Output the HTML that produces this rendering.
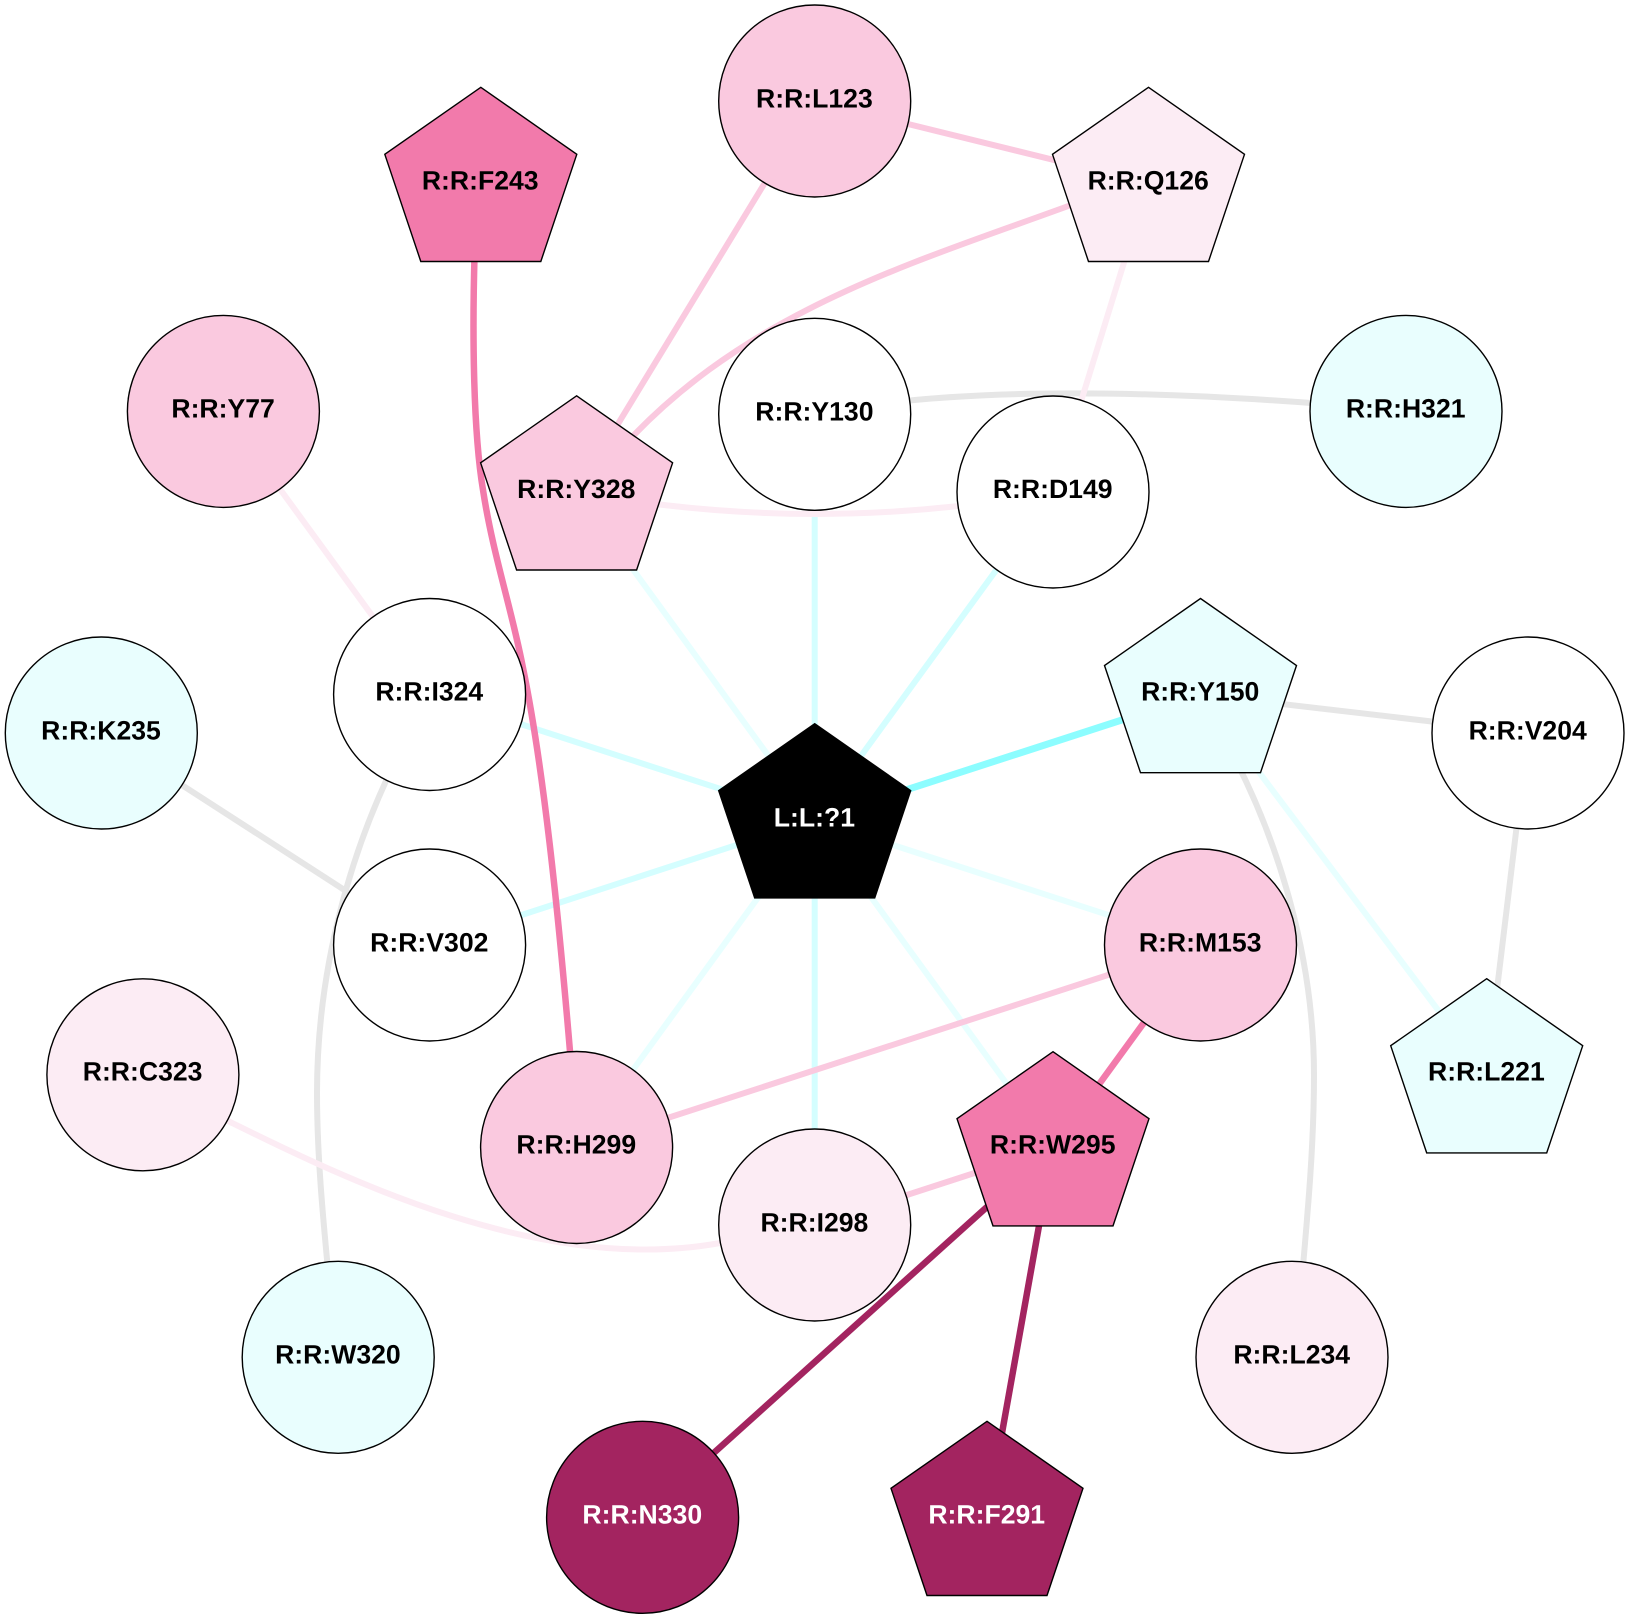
<!DOCTYPE html>
<html>
<head>
<meta charset="utf-8">
<style>
html,body{margin:0;padding:0;background:#fff;width:1629px;height:1619px;overflow:hidden}
svg{display:block}
text{font-family:"Liberation Sans",sans-serif;font-weight:bold;font-size:26.6px;text-anchor:middle;fill:#000;text-rendering:geometricPrecision}
text.w{fill:#fff}
.n{stroke:#000;stroke-width:1.4}
.e{fill:none}
</style>
</head>
<body>
<svg xmlns="http://www.w3.org/2000/svg" width="1629" height="1619" viewBox="0 0 1629 1619">
<defs>
<polygon id="p" points="0,-96 96,-29 60,78.2 -60,78.2 -96,-29"/>
</defs>
<rect width="1629" height="1619" fill="#fff"/>
<g class="e">
<!-- edges to centre -->
<path d="M814.7,819.5L814.7,414" stroke="#d4feff" stroke-width="6"/>
<path d="M814.7,819.5L1053,492" stroke="#d4feff" stroke-width="6"/>
<path d="M814.7,819.5L576.6,491.8" stroke="#e8ffff" stroke-width="6"/>
<path d="M814.7,819.5L429.6,694.5" stroke="#d4feff" stroke-width="6"/>
<path d="M814.7,819.5L429.6,945" stroke="#d4feff" stroke-width="6"/>
<path d="M814.7,819.5L576.6,1147.5" stroke="#e8ffff" stroke-width="6"/>
<path d="M814.7,819.5L814.7,1225" stroke="#d4feff" stroke-width="6"/>
<path d="M814.7,819.5L1053,1147.5" stroke="#e8ffff" stroke-width="6"/>
<path d="M814.7,819.5L1200.5,945" stroke="#e8ffff" stroke-width="6"/>
<path d="M814.7,819.5L1200.5,694.5" stroke="#8cfdff" stroke-width="7"/>
<!-- outer grey -->
<path d="M101.3,733L429.6,945" stroke="#e6e6e6" stroke-width="6"/>
<path d="M400,752C355,840 317,960 317,1093C317,1150 322,1210 330,1290" stroke="#e6e6e6" stroke-width="6"/>
<path d="M1225,740C1280,840 1314,960 1314,1075C1314,1140 1309,1200 1300,1300" stroke="#e6e6e6" stroke-width="6"/>
<path d="M1200.5,694.5L1528,732.7" stroke="#e6e6e6" stroke-width="6"/>
<path d="M1528,732.7L1486.7,1074.7" stroke="#e6e6e6" stroke-width="6"/>
<path d="M815,414C950,387 1150,387 1406,411" stroke="#e6e6e6" stroke-width="6"/>
<path d="M1200.5,694.5L1486.7,1074.7" stroke="#e8ffff" stroke-width="6"/>
<!-- pale pink -->
<path d="M1148.5,183.3L1053,492" stroke="#fcecf4" stroke-width="6"/>
<path d="M576.6,491.8Q815,536 1053,492" stroke="#fcecf4" stroke-width="6"/>
<path d="M223.4,411.4L429.6,694.5" stroke="#fcecf4" stroke-width="6"/>
<path d="M190,1100L228,1121C340,1176 540,1276 720,1243L760,1236" stroke="#fcecf4" stroke-width="6"/>
<!-- pink -->
<path d="M814.7,101L1148.5,183.3" stroke="#fac9df" stroke-width="6"/>
<path d="M814.7,101L576.6,491.8" stroke="#fac9df" stroke-width="6"/>
<path d="M1090,198C930,258 750,305 620,450" stroke="#fac9df" stroke-width="6"/>
<path d="M1200.5,945L576.6,1147.5" stroke="#fac9df" stroke-width="6"/>
<path d="M1053,1147.5L814.7,1225" stroke="#fac9df" stroke-width="6"/>
<!-- strong -->
<path d="M475,240C472,330 473,430 483,490C493,555 512,610 523,668C542,760 558,900 574,1100" stroke="#f27aab" stroke-width="6.5"/>
<path d="M1200.5,945L1053,1147.5" stroke="#f27aab" stroke-width="6.5"/>
<path d="M1053,1147.5L642.6,1517" stroke="#a32460" stroke-width="6.5"/>
<path d="M1053,1147.5L987,1517" stroke="#a32460" stroke-width="6.5"/>
</g>

<!-- nodes -->
<g>
<circle class="n" cx="814.7" cy="101" r="96" fill="#fac9df"/>
<use class="n" href="#p" x="480.8" y="183.3" fill="#f27aab"/>
<use class="n" href="#p" x="1148.5" y="183.3" fill="#fcecf4"/>
<circle class="n" cx="223.4" cy="411.4" r="96" fill="#fac9df"/>
<circle class="n" cx="814.7" cy="414.3" r="96" fill="#fff"/>
<circle class="n" cx="1406" cy="411.4" r="96" fill="#e9fefe"/>
<use class="n" href="#p" x="576.6" y="491.8" fill="#fac9df"/>
<circle class="n" cx="1053" cy="492" r="96" fill="#fff"/>
<circle class="n" cx="429.6" cy="694.5" r="96" fill="#fff"/>
<use class="n" href="#p" x="1200.5" y="694.5" fill="#e9fefe"/>
<circle class="n" cx="101.3" cy="733" r="96" fill="#e9fefe"/>
<circle class="n" cx="1528" cy="733" r="96" fill="#fff"/>
<use class="n" href="#p" x="814.7" y="819.7" fill="#000"/>
<circle class="n" cx="429.6" cy="945" r="96" fill="#fff"/>
<circle class="n" cx="1200.5" cy="945" r="96" fill="#fac9df"/>
<use class="n" href="#p" x="1486.7" y="1074.7" fill="#e9fefe"/>
<circle class="n" cx="142.9" cy="1074.8" r="96" fill="#fcecf4"/>
<circle class="n" cx="576.6" cy="1147.5" r="96" fill="#fac9df"/>
<use class="n" href="#p" x="1053" y="1147.7" fill="#f27aab"/>
<circle class="n" cx="814.7" cy="1225" r="96" fill="#fcecf4"/>
<circle class="n" cx="338.2" cy="1357.3" r="96" fill="#e9fefe"/>
<circle class="n" cx="1292" cy="1357.3" r="96" fill="#fcecf4"/>
<circle class="n" cx="642.6" cy="1517.3" r="96" fill="#a32460"/>
<use class="n" href="#p" x="987" y="1517.3" fill="#a32460"/>
</g>
<g transform="translate(-0.3,-0.4)">
<text x="814.7" y="108">R:R:L123</text>
<text x="480.5" y="190">R:R:F243</text>
<text x="1148.5" y="190">R:R:Q126</text>
<text x="223.4" y="418">R:R:Y77</text>
<text x="814.7" y="421">R:R:Y130</text>
<text x="1406" y="418">R:R:H321</text>
<text x="576.6" y="498.5">R:R:Y328</text>
<text x="1053" y="498.5">R:R:D149</text>
<text x="429.6" y="701">R:R:I324</text>
<text x="1200.5" y="701">R:R:Y150</text>
<text x="101.3" y="740">R:R:K235</text>
<text x="1528" y="740">R:R:V204</text>
<text class="w" x="814.7" y="827">L:L:?1</text>
<text x="429.6" y="952">R:R:V302</text>
<text x="1200.5" y="952">R:R:M153</text>
<text x="1486.7" y="1081">R:R:L221</text>
<text x="142.9" y="1081">R:R:C323</text>
<text x="576.6" y="1154">R:R:H299</text>
<text x="1053" y="1154">R:R:W295</text>
<text x="814.7" y="1232">R:R:I298</text>
<text x="338.2" y="1364">R:R:W320</text>
<text x="1292" y="1364">R:R:L234</text>
<text class="w" x="642.6" y="1524">R:R:N330</text>
<text class="w" x="987" y="1524">R:R:F291</text>
</g>
</svg>
</body>
</html>
